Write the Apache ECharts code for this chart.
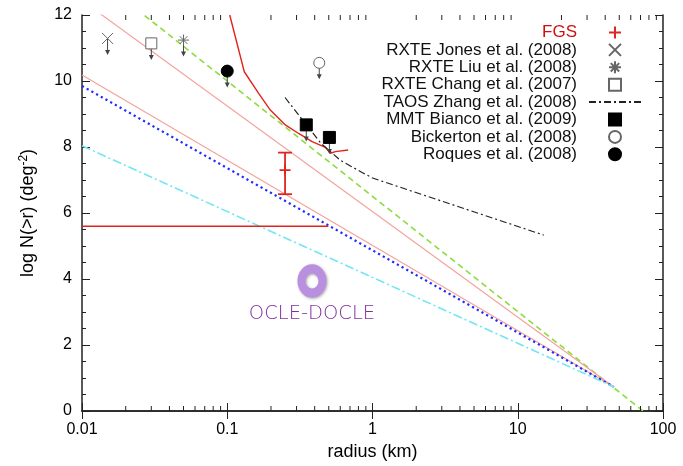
<!DOCTYPE html>
<html>
<head>
<meta charset="utf-8">
<title>log N(>r) vs radius</title>
<script src="https://cdn.jsdelivr.net/npm/echarts@6/dist/echarts.min.js"></script>
<style>
  html, body { margin: 0; padding: 0; background: #fff; }
  #chart { width: 683px; height: 466px; }
</style>
</head>
<body>
<div id="chart"></div>
<script>
// 模型直线 (x 两端点, 收敛于 ~46 km)
var modelRadius = [0.01, 45.9];
var pinkUpper = [12.44, 0.73];
var pinkLower = [10.18, 0.73];
var blueDotted = [9.85, 0.73];
var cyanDashDot = [8.04, 0.73];
var greenRadius = [0.01, 100];
var greenDashed = [13.49, -0.48];

// FGS
var fgsCurveRadius = [0.104, 0.131, 0.164, 0.198, 0.251, 0.31, 0.384, 0.474, 0.513, 0.556, 0.68];
var fgsCurveLogN = [12, 10.28, 9.63, 9.12, 8.67, 8.41, 8.16, 7.99, 7.81, 7.86, 7.91];
var fgsFlatRadius = [0.01, 0.497];
var fgsFlatLogN = [5.6, 5.6];
var fgsPoint = [0.25, 7.3];
var fgsError = [6.57, 7.83];

// TAOS
var taosRadius = [0.25, 0.33, 0.44, 0.6, 0.83, 1.0, 15.1];
var taosLogN = [9.5, 8.82, 8.12, 7.6, 7.25, 7.06, 5.33];

// 上限点
var jonesPt = [0.015, 11.29];
var liuPt = [0.05, 11.24];
var changPt = [0.03, 11.14];
var biancoRadius = [0.35, 0.505];
var biancoLogN = [8.67, 8.29];
var bickertonPt = [0.43, 10.55];
var roquesPt = [0.1, 10.3];

// 刻度
var xTickLabels = ['0.01', '0.1', '1', '10', '100'];
var xDecades = [0.01, 0.1, 1, 10];

var legendNames = ['FGS', 'RXTE Jones et al. (2008)', 'RXTE Liu et al. (2008)', 'RXTE Chang et al. (2007)',
  'TAOS Zhang et al. (2008)', 'MMT Bianco et al. (2009)', 'Bickerton et al. (2008)', 'Roques et al. (2008)'];

function zip(xs, ys) {
  return xs.map(function (x, i) { return [x, ys[i]]; });
}

var minorX = [];
xDecades.forEach(function (d) {
  for (var k = 2; k <= 9; k++) minorX.push([+(k * d).toPrecision(3), 0]);
});

var limitPoints = [jonesPt, liuPt, changPt, bickertonPt, roquesPt].concat(zip(biancoRadius, biancoLogN));
var arrowDrop = 0.5;

var font = 'Liberation Sans';
var axisColor = '#222';
var squarePath = 'path://M0,0L10,0L10,10L0,10Z';

function plainLine(data, color, width, type) {
  return {
    type: 'line', data: data, symbol: 'none', silent: true,
    itemStyle: { color: 'transparent', borderColor: 'transparent' },
    lineStyle: { color: color, width: width, type: type }
  };
}

function pointSeries(name, data, symbol, size, fill, stroke, bw) {
  return {
    name: name, type: 'scatter', data: data, symbol: symbol, symbolSize: size,
    symbolKeepAspect: true, z: 6, silent: true,
    itemStyle: { color: fill, borderColor: stroke, borderWidth: bw || 1, opacity: 1 }
  };
}

var chart = echarts.init(document.getElementById('chart'));

chart.setOption({
  animation: false,
  backgroundColor: '#fff',
  grid: { left: 82, right: 20, top: 15, bottom: 55, outerBoundsMode: 'none' },
  legend: {
    orient: 'vertical', align: 'right', right: 41, top: 24, padding: 0,
    itemWidth: 52, itemHeight: 12, itemGap: 0.4, symbolKeepAspect: true,
    textStyle: { fontFamily: font, fontSize: 17, color: '#111', lineHeight: 16, padding: [0, 7, 0, 0] },
    data: legendNames.map(function (n) {
      return n === 'FGS' ? { name: n, textStyle: { color: '#cc1111' } } : { name: n };
    })
  },
  xAxis: [{
    type: 'log', logBase: 10, min: 0.01, max: 100, position: 'bottom',
    axisLine: { lineStyle: { color: axisColor, width: 1.5 } },
    axisTick: { inside: true, length: 8, lineStyle: { color: axisColor } },
    splitLine: { show: false },
    axisLabel: {
      margin: 11, fontFamily: font, fontSize: 16, color: '#000',
      formatter: function (v) { return xTickLabels[Math.round(Math.log10(v)) + 2]; }
    },
    name: 'radius (km)', nameLocation: 'middle', nameGap: 32,
    nameTextStyle: { fontFamily: font, fontSize: 18, color: '#000' }
  }, {
    type: 'log', logBase: 10, min: 0.01, max: 100, position: 'top',
    axisLine: { lineStyle: { color: axisColor, width: 1.5 } },
    axisTick: { inside: true, length: 8, lineStyle: { color: axisColor } },
    splitLine: { show: false }, axisLabel: { show: false }
  }],
  yAxis: [{
    type: 'value', min: 0, max: 12, interval: 2, position: 'left',
    axisLine: { show: true, lineStyle: { color: axisColor, width: 1.5 } },
    axisTick: { show: true, inside: true, length: 8, lineStyle: { color: axisColor } },
    minorTick: { show: true, splitNumber: 4, length: 4, lineStyle: { color: axisColor } },
    splitLine: { show: false },
    axisLabel: { margin: 10, fontFamily: font, fontSize: 16, color: '#000' },
    name: 'log N(>r) (deg{sup|-2})', nameLocation: 'middle', nameGap: 44,
    nameTextStyle: {
      fontFamily: font, fontSize: 18, color: '#000',
      rich: { sup: { fontFamily: font, fontSize: 12, color: '#000', verticalAlign: 'top', padding: [0, 0, 8, 0] } }
    }
  }, {
    type: 'value', min: 0, max: 12, interval: 2, position: 'right',
    axisLine: { show: true, lineStyle: { color: axisColor, width: 1.5 } },
    axisTick: { show: true, inside: true, length: 8, lineStyle: { color: axisColor } },
    minorTick: { show: true, splitNumber: 4, length: 4, lineStyle: { color: axisColor } },
    splitLine: { show: false }, axisLabel: { show: false }
  }],
  graphic: [{
    type: 'ring', shape: { cx: 312, cy: 281, r: 14.5, r0: 6.5 },
    scaleY: 1.15, originX: 312, originY: 281, z: 50,
    style: { fill: '#b98fe0', shadowBlur: 3, shadowOffsetX: 1, shadowOffsetY: 1, shadowColor: 'rgba(0,0,0,0.35)' }
  }, {
    type: 'text', x: 312, y: 314, z: 50,
    style: {
      text: 'OCLE-DOCLE', fill: '#7f2f98', fontFamily: 'DejaVu Sans', fontSize: 19.5, fontWeight: 300,
      align: 'center', verticalAlign: 'middle'
    }
  }],
  series: [
    plainLine(zip(greenRadius, greenDashed), '#8edb3c', 1.6, [6, 4]),
    plainLine(zip(modelRadius, pinkUpper), '#f3a39c', 1.2, 'solid'),
    plainLine(zip(modelRadius, pinkLower), '#f3a39c', 1.2, 'solid'),
    plainLine(zip(modelRadius, blueDotted), '#1f2bff', 2.2, [2.2, 3.2]),
    plainLine(zip(modelRadius, cyanDashDot), '#72e6f2', 1.6, [9, 3, 2, 3]),
    plainLine(zip(fgsCurveRadius, fgsCurveLogN), '#e0251f', 1.4, 'solid'),
    plainLine(zip(fgsFlatRadius, fgsFlatLogN), '#e0251f', 1.4, 'solid'),
    Object.assign(plainLine(zip(taosRadius, taosLogN), '#222', 1.2, [7, 3, 2, 3]), { name: 'TAOS Zhang et al. (2008)' }),
    {
      // 上限箭头
      type: 'custom', silent: true, z: 5, data: limitPoints,
      renderItem: function (params, api) {
        var a = api.coord([api.value(0), api.value(1)]);
        var b = api.coord([api.value(0), api.value(1) - arrowDrop]);
        return {
          type: 'group', children: [
            { type: 'line', shape: { x1: a[0], y1: a[1], x2: b[0], y2: b[1] - 2 }, style: { stroke: '#444', lineWidth: 1 } },
            { type: 'polygon', shape: { points: [[b[0] - 2.5, b[1] - 5], [b[0], b[1]], [b[0] + 2.5, b[1] - 5]] }, style: { fill: '#444' } }
          ]
        };
      }
    },
    {
      // FGS 误差棒
      type: 'custom', silent: true, z: 5, data: [[fgsPoint[0], fgsError[0], fgsError[1]]],
      renderItem: function (params, api) {
        var lo = api.coord([api.value(0), api.value(1)]);
        var hi = api.coord([api.value(0), api.value(2)]);
        var st = { stroke: '#e0251f', lineWidth: 1.8 };
        return {
          type: 'group', children: [
            { type: 'line', shape: { x1: lo[0], y1: lo[1], x2: hi[0], y2: hi[1] }, style: st },
            { type: 'line', shape: { x1: lo[0] - 7, y1: lo[1], x2: lo[0] + 7, y2: lo[1] }, style: st },
            { type: 'line', shape: { x1: hi[0] - 7, y1: hi[1], x2: hi[0] + 7, y2: hi[1] }, style: st }
          ]
        };
      }
    },
    {
      // x 次刻度 (上下)
      type: 'custom', silent: true, z: 7, clip: false, data: minorX,
      renderItem: function (params, api) {
        var b = api.coord([api.value(0), 0]);
        var t = api.coord([api.value(0), 12]);
        var st = { stroke: axisColor, lineWidth: 1 };
        return {
          type: 'group', children: [
            { type: 'line', shape: { x1: b[0], y1: b[1], x2: b[0], y2: b[1] - 5 }, style: st },
            { type: 'line', shape: { x1: t[0], y1: t[1], x2: t[0], y2: t[1] + 5 }, style: st }
          ]
        };
      }
    },
    pointSeries('FGS', [fgsPoint], 'path://M5,0L5,10M0,5L10,5', 11, 'transparent', '#e0251f', 1.8),
    pointSeries('RXTE Jones et al. (2008)', [jonesPt], 'path://M0,0L10,10M10,0L0,10', 11, 'transparent', '#666'),
    pointSeries('RXTE Liu et al. (2008)', [liuPt], 'path://M5,0L5,10M0,5L10,5M1.5,1.5L8.5,8.5M8.5,1.5L1.5,8.5', 11, 'transparent', '#666'),
    pointSeries('RXTE Chang et al. (2007)', [changPt], squarePath, 11, '#fff', '#666'),
    pointSeries('MMT Bianco et al. (2009)', zip(biancoRadius, biancoLogN), squarePath, 12, '#000', '#000'),
    pointSeries('Bickerton et al. (2008)', [bickertonPt], 'circle', 11, '#fff', '#666'),
    pointSeries('Roques et al. (2008)', [roquesPt], 'circle', 12, '#000', '#000')
  ]
});
</script>
</body>
</html>
